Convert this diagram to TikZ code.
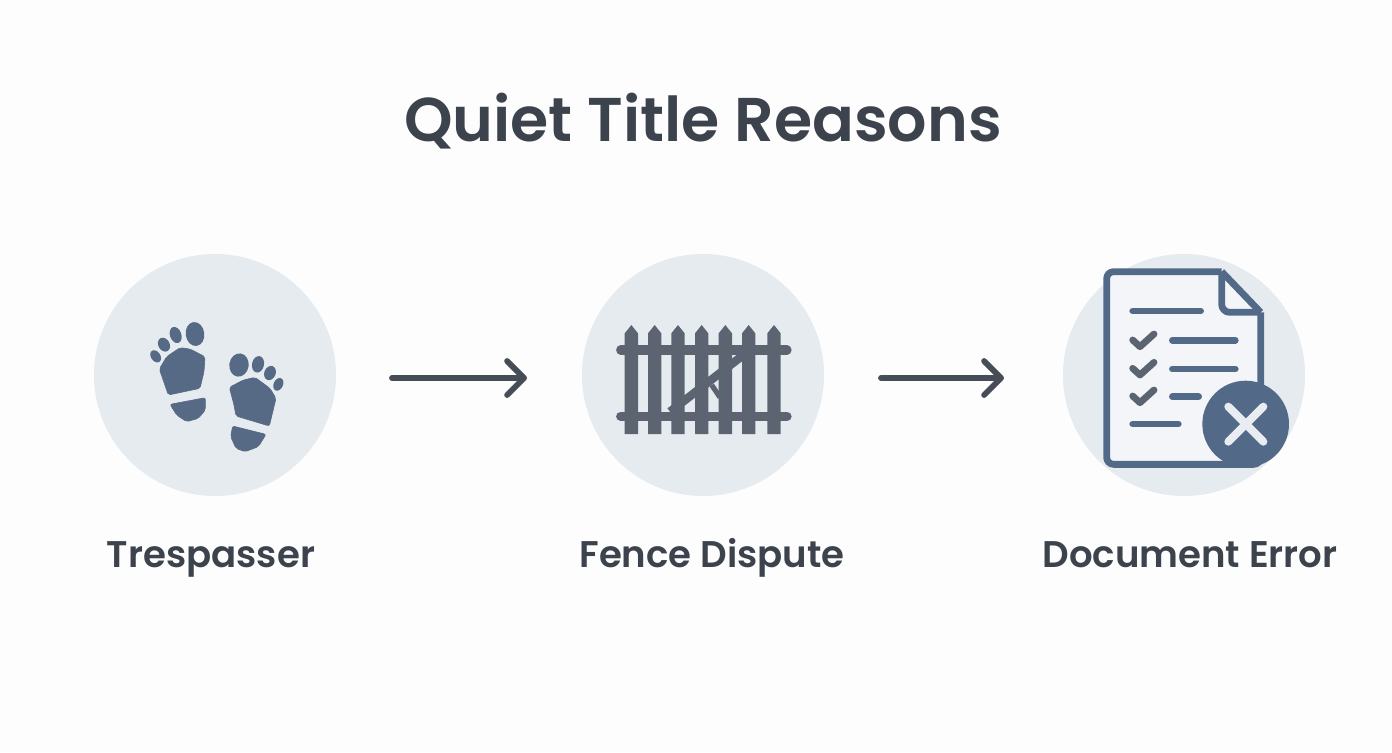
\documentclass[tikz,border=0pt]{standalone}
\usepackage{fontspec}
\setmainfont{Poppins}[BoldFont={Poppins SemiBold}]
\usetikzlibrary{arrows.meta}
\definecolor{bgc}{HTML}{FDFDFE}
\definecolor{disc}{HTML}{E6EBF0}
\definecolor{ink}{HTML}{3C434D}
\definecolor{arrowc}{HTML}{474D56}
\definecolor{slate}{HTML}{566A86}
\definecolor{docblue}{HTML}{526A88}
\definecolor{fencec}{HTML}{5B6470}
\definecolor{paper}{HTML}{F3F5F8}
\definecolor{xmark}{HTML}{E9EDF1}
\tikzset{
  discnode/.style={circle,fill=disc,minimum size=121pt,inner sep=0pt},
  labelnode/.style={text=ink,font=\fontsize{18.55pt}{22pt}\selectfont\bfseries,inner sep=0pt,anchor=base},
  titlenode/.style={text=ink,font=\fontsize{30.9pt}{38pt}\selectfont\bfseries,inner sep=0pt,anchor=base},
  flow/.style={draw=arrowc,line width=2.9pt,line cap=round,line join=round,-{Straight Barb[length=8.5pt,width=17pt,line width=2.9pt,round]}},
  footc/.style={fill=slate,draw=slate,line width=0.3pt,rounded corners=1pt},
  picket/.style={fill=fencec,draw=none},
  rail/.style={draw=fencec,line width=4.6pt,line cap=round},
  docline/.style={draw=docblue,line width=3.3pt,line cap=round},
  checkm/.style={draw=fencec,line width=3.4pt,line cap=round,line join=round},
}
\begin{document}
\begin{tikzpicture}[x=0.5pt,y=-0.5pt]
\useasboundingbox (0,0) rectangle (1392,752);
\fill[bgc] (0,0) rectangle (1392,752);
\node[titlenode] (title) at (703,141) {Quiet Title Reasons};
\node[discnode] (c1) at (215,375) {};
\node[discnode] (c2) at (703,375) {};
\node[discnode] (c3) at (1184,375) {};
\node[labelnode] (l1) at (211,567) {Trespasser};
\node[labelnode] (l2) at (712,567) {Fence Dispute};
\node[labelnode] (l3) at (1190,567) {Document Error};
\coordinate (a1s) at (392,378);
\coordinate (a1e) at (527,378);
\coordinate (a2s) at (881,378);
\coordinate (a2e) at (1004,378);
\draw[flow] (a1s) -- (a1e);
\draw[flow] (a2s) -- (a2e);
% footprints
\begin{scope}[xshift=65pt,yshift=-150pt,x=0.16667pt,y=-0.16667pt]
\path[footc] (88,207) -- (110,170) -- (150,143) -- (180,147) -- (225,170) -- (222,215) -- (210,265) -- (115,285) -- cycle;
\path[footc] (120,313) -- (226,293) -- (226,330) -- (205,355) -- (170,365) -- (140,345) -- cycle;
\fill[slate,rotate around={8:(195,102)}] (195,102) ellipse (28 and 36);
\fill[slate,rotate around={20:(137,105)}] (137,105) ellipse (17 and 25);
\fill[slate,rotate around={30:(102,134)}] (102,134) ellipse (17 and 22);
\fill[slate,rotate around={35:(77,169)}] (77,169) ellipse (14 and 20);
\path[footc] (298,262) -- (340,240) -- (375,232) -- (420,265) -- (438,295) -- (418,378) -- (318,348) -- (312,315) -- cycle;
\path[footc] (308,378) -- (408,403) -- (385,440) -- (345,455) -- (318,445) -- (302,410) -- cycle;
\fill[slate,rotate around={-8:(327,195)}] (327,195) ellipse (29 and 35);
\fill[slate,rotate around={-12:(384,193)}] (384,193) ellipse (18 and 25);
\fill[slate,rotate around={-22:(420,219)}] (420,219) ellipse (17 and 22);
\fill[slate,rotate around={-25:(445,253)}] (445,253) ellipse (14 and 20);
\end{scope}
% fence
\begin{scope}[xshift=300pt,yshift=-155pt,x=0.16667pt,y=-0.16667pt]
\draw[rail] (62,120) -- (561,120);
\draw[rail] (62,319) -- (561,319);
\foreach \px in {94,164,234,305,376,446,522}{
  \fill[picket] (\px-20,372) -- (\px-20,70) -- (\px,45) -- (\px+20,70) -- (\px+20,372) -- cycle;
}
\draw[draw=fencec,line width=4.2pt] (210,305) -- (430,135);
\draw[draw=fencec,line width=2.6pt] (335,225) -- (360,262);
\end{scope}
% document
\begin{scope}[xshift=545pt,yshift=-127.5pt,x=0.16667pt,y=-0.16667pt]
\path[fill=paper] (395,50) -- (512,172) -- (512,628) -- (50,628) -- (50,50) -- cycle;
\draw[docblue,line width=3.4pt,line join=round,rounded corners=3.5pt] (395,50) -- (50,50) -- (50,628) -- (512,628) -- (512,172);
\draw[docblue,line width=3.4pt,line join=round] (395,50) -- (512,172);
\draw[docblue,line width=3.4pt,line join=round,rounded corners=4pt] (395,50) -- (395,172) -- (512,172);
\draw[docline] (128,168) -- (332,168);
\draw[docline] (247,256) -- (436,256);
\draw[docline] (247,342) -- (436,342);
\draw[docline] (247,425) -- (326,425);
\draw[docline] (128,507) -- (265,507);
\foreach \dy in {0,85,168}{
  \draw[checkm] (128,255+\dy) -- (150,275+\dy) -- (192,237+\dy);
}
\fill[docblue] (467,507) circle [x radius=130,y radius=130];
\draw[xmark,line width=4pt,line cap=round] (415,455) -- (520,560);
\draw[xmark,line width=4pt,line cap=round] (520,455) -- (415,560);
\end{scope}
\end{tikzpicture}
\end{document}
